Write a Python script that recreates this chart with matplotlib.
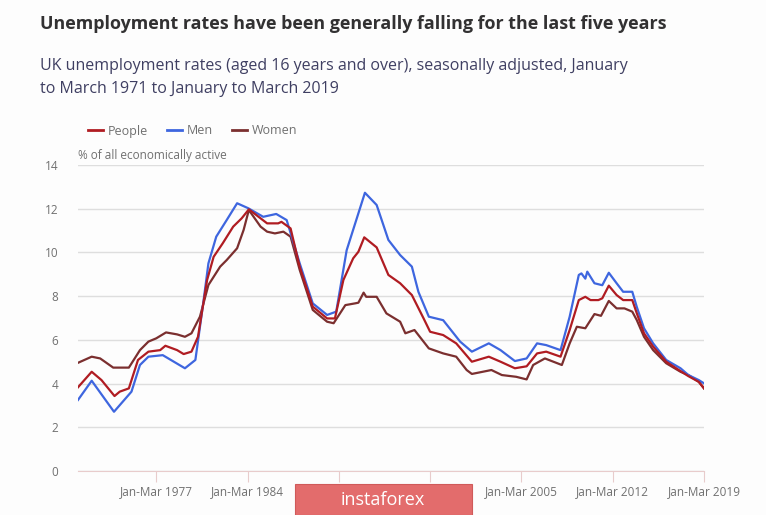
import matplotlib.pyplot as plt
from matplotlib.lines import Line2D
from matplotlib.patches import Rectangle

# (year fraction, % rate)
men_years = [1971.0, 1972.05, 1973.76, 1975.1, 1975.75, 1976.4, 1977.5, 1979.2, 1980.0, 1980.6,
             1981.0, 1981.6, 1982.4, 1983.2, 1984.06, 1985.2, 1986.2, 1987.0, 1988.0, 1989.0,
             1990.1, 1990.8, 1991.6, 1992.5, 1993.0, 1993.9, 1994.8, 1995.7, 1996.6, 1997.1,
             1997.9, 1999.0, 2000.3, 2001.2, 2002.5, 2003.4, 2004.5, 2005.4, 2006.2, 2006.9,
             2008.0, 2008.7, 2009.4, 2009.6, 2009.9, 2010.05, 2010.6, 2011.2, 2011.7, 2012.3,
             2012.8, 2013.5, 2013.85, 2014.4, 2015.1, 2016.1, 2017.2, 2017.8, 2018.6, 2019.0]
men_rate = [3.25, 4.13, 2.71, 3.63, 4.85, 5.23, 5.3, 4.7, 5.08, 7.67,
            9.5, 10.72, 11.48, 12.25, 12.02, 11.63, 11.76, 11.48, 9.5, 7.67,
            7.14, 7.29, 10.1, 11.79, 12.73, 12.17, 10.57, 9.88, 9.35, 8.2,
            7.06, 6.9, 5.92, 5.46, 5.84, 5.53, 5.03, 5.15, 5.84, 5.76,
            5.53, 7.06, 8.97, 9.04, 8.8, 9.12, 8.59, 8.5, 9.07, 8.59,
            8.2, 8.2, 7.5, 6.53, 5.84, 5.08, 4.7, 4.39, 4.16, 4.01]

people_years = [1971.0, 1972.05, 1972.8, 1973.8, 1974.2, 1974.9, 1975.6, 1976.4, 1977.3, 1977.7,
                1978.6, 1979.1, 1979.7, 1980.2, 1980.9, 1981.4, 1982.1, 1982.9, 1983.55, 1984.1,
                1985.0, 1985.5, 1986.35, 1986.6, 1987.3, 1988.0, 1989.0, 1990.1, 1990.7, 1991.35,
                1992.1, 1992.5, 1992.95, 1993.9, 1994.8, 1995.7, 1996.6, 1997.5, 1998.0, 1999.0,
                2000.0, 2001.2, 2002.5, 2003.4, 2004.5, 2005.4, 2006.2, 2006.9, 2008.0, 2008.7,
                2009.4, 2009.9, 2010.3, 2010.9, 2011.2, 2011.7, 2012.3, 2012.8, 2013.5, 2013.85,
                2014.4, 2015.1, 2016.1, 2017.2, 2017.8, 2018.6, 2019.0]
people_rate = [3.83, 4.54, 4.16, 3.43, 3.63, 3.78, 5.08, 5.46, 5.53, 5.73,
               5.53, 5.35, 5.46, 6.14, 8.74, 9.8, 10.42, 11.18, 11.56, 11.97,
               11.56, 11.33, 11.33, 11.4, 11.1, 9.35, 7.52, 6.98, 6.98, 8.74,
               9.73, 10.03, 10.69, 10.23, 8.97, 8.59, 8.05, 6.98, 6.37, 6.22,
               5.84, 5.0, 5.23, 5.0, 4.7, 4.79, 5.38, 5.46, 5.23, 6.45,
               7.82, 7.97, 7.82, 7.82, 7.9, 8.48, 8.05, 7.82, 7.82, 7.21,
               6.3, 5.69, 5.0, 4.57, 4.34, 4.08, 3.78]

women_years = [1971.0, 1972.05, 1972.7, 1973.7, 1974.9, 1975.75, 1976.4, 1977.0, 1977.75, 1978.6,
               1979.2, 1979.7, 1980.35, 1981.0, 1981.9, 1982.4, 1983.2, 1983.7, 1984.1, 1985.0,
               1985.5, 1986.1, 1986.75, 1987.3, 1988.0, 1989.0, 1990.1, 1990.6, 1991.5, 1992.25,
               1992.5, 1992.9, 1993.1, 1993.9, 1994.65, 1995.7, 1996.1, 1996.8, 1997.9, 1999.0,
               2000.0, 2000.8, 2001.2, 2002.7, 2003.5, 2004.6, 2005.4, 2005.9, 2006.8, 2008.1,
               2008.7, 2009.25, 2009.9, 2010.6, 2011.1, 2011.7, 2012.3, 2012.9, 2013.5, 2013.85,
               2014.4, 2015.1, 2016.1, 2017.2, 2017.8, 2018.6, 2019.0]
women_rate = [4.95, 5.23, 5.15, 4.73, 4.73, 5.53, 5.92, 6.07, 6.34, 6.25,
              6.14, 6.3, 7.06, 8.51, 9.35, 9.65, 10.19, 11.03, 11.94, 11.18,
              10.95, 10.87, 10.95, 10.72, 9.2, 7.37, 6.83, 6.76, 7.59, 7.67,
              7.7, 8.16, 7.97, 7.97, 7.21, 6.83, 6.3, 6.45, 5.61, 5.38,
              5.23, 4.62, 4.44, 4.62, 4.39, 4.31, 4.19, 4.85, 5.15, 4.85,
              5.84, 6.6, 6.53, 7.18, 7.1, 7.78, 7.44, 7.44, 7.29, 6.9,
              6.14, 5.53, 4.93, 4.54, 4.39, 4.08, 3.78]

tick_years = [1977, 1984, 1991, 1998, 2005, 2012, 2019]
# 1991 and 1998 labels sit under the watermark in the original
tick_labels = ['Jan-Mar 1977', 'Jan-Mar 1984', '', '', 'Jan-Mar 2005', 'Jan-Mar 2012', 'Jan-Mar 2019']
y_ticks = [0, 2, 4, 6, 8, 10, 12, 14]

c_people = '#b01c22'
c_men = '#3e66df'
c_women = '#7b2f2f'
grey = '#707070'

plt.rcParams['font.family'] = ['Open Sans', 'DejaVu Sans']

fig = plt.figure(figsize=(7.66, 5.15), dpi=100)
fig.patch.set_facecolor('#fdfdfd')
ax = fig.add_axes([78 / 766, 1 - 471 / 515, 626 / 766, 306 / 515])
ax.set_facecolor('#fdfdfd')

ax.plot(women_years, women_rate, color=c_women, lw=1.6, zorder=3)
ax.plot(men_years, men_rate, color=c_men, lw=1.6, zorder=4)
ax.plot(people_years, people_rate, color=c_people, lw=1.6, zorder=5)

ax.set_xlim(1971, 2019)
ax.set_ylim(0, 14)
ax.set_yticks(y_ticks)
ax.set_xticks(tick_years)
ax.set_xticklabels(tick_labels)
ax.grid(axis='y', color='#dedede', lw=1)
ax.set_axisbelow(True)
for s in ['top', 'right', 'left']:
    ax.spines[s].set_visible(False)
ax.spines['bottom'].set_color('#e8cccc')
ax.tick_params(axis='x', length=8, color='#e8cccc', labelcolor=grey, labelsize=8.5, pad=2)
ax.tick_params(axis='y', length=0, colors=grey, labelsize=8.5, pad=14)

# titles
fig.text(40 / 766, 1 - 24 / 515, 'Unemployment rates have been generally falling for the last five years',
         fontsize=12.9, fontweight='bold', color='#323132', va='center')
fig.text(40 / 766, 1 - 66 / 515, 'UK unemployment rates (aged 16 years and over), seasonally adjusted, January',
         fontsize=11.5, color='#3f3f62', va='center')
fig.text(40 / 766, 1 - 89 / 515, 'to March 1971 to January to March 2019',
         fontsize=11.5, color='#3f3f62', va='center')

# legend
handles = [Line2D([], [], color=c, lw=2) for c in (c_people, c_men, c_women)]
fig.legend(handles, ['People', 'Men', 'Women'], loc='center left',
           bbox_to_anchor=(88 / 766, 1 - 131 / 515), ncol=3, frameon=False,
           handlelength=1.2, handletextpad=0.4, columnspacing=1.5,
           fontsize=9, labelcolor=grey, borderaxespad=0, borderpad=0)

fig.text(78 / 766, 1 - 156 / 515, '% of all economically active', fontsize=8.5, color=grey, va='center')

# watermark
fig.patches.append(Rectangle((295 / 766, 0), 177 / 766, 31 / 515, transform=fig.transFigure,
                             facecolor='#e36c6c', edgecolor='#d05a5a', lw=0.8, zorder=10))
fig.text(383 / 766, 15 / 515, 'instaforex', fontsize=13, color='white', ha='center', va='center',
         zorder=11)

fig.savefig('out.png', dpi=100, facecolor=fig.get_facecolor())
